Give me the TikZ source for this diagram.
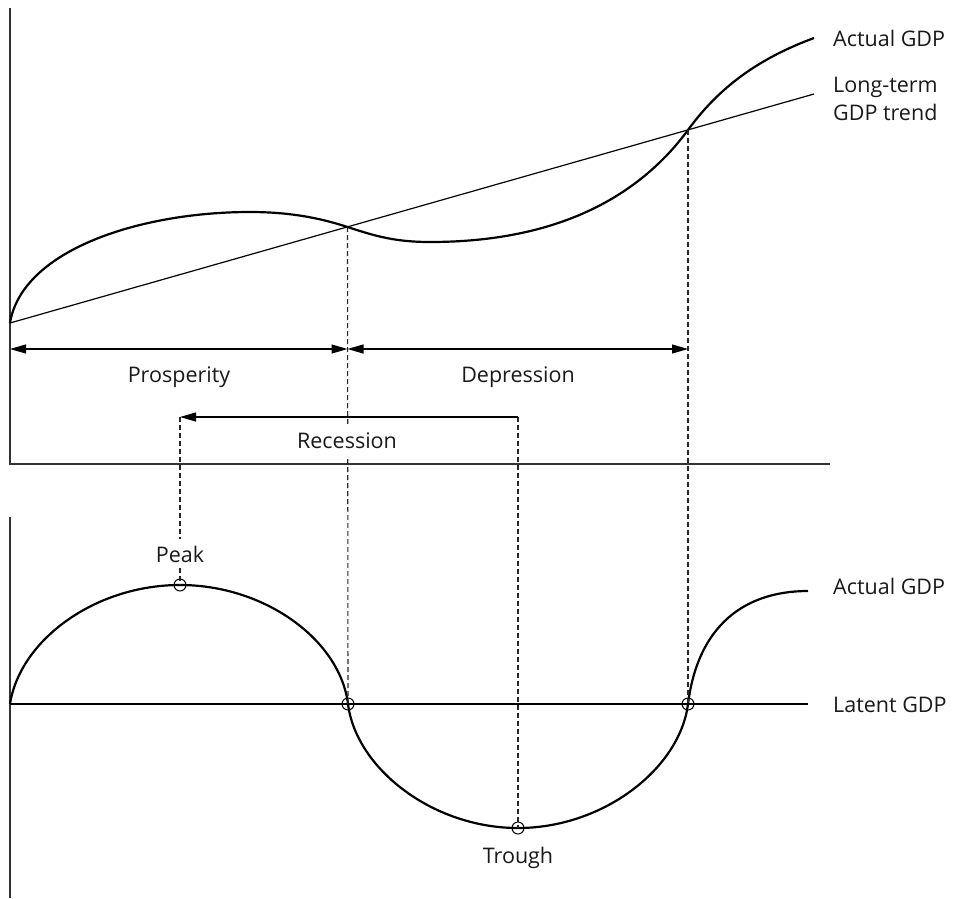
\documentclass[tikz,border=0pt]{standalone}
\usepackage{fontspec}
\setmainfont{Open Sans}
\usetikzlibrary{arrows.meta}
\begin{document}
\begin{tikzpicture}[x=1pt,y=-1pt,
  axis/.style={line width=1.4pt,draw=black!80},
  gdpcurve/.style={line width=2.2pt,line join=round},
  trendline/.style={line width=1.2pt},
  guide/.style={line width=1.1pt,draw=black!85,dash pattern=on 5pt off 3pt},
  span/.style={line width=1.1pt,{Triangle[length=16pt,width=9pt]}-{Triangle[length=16pt,width=9pt]}},
  lbl/.style={anchor=base,inner sep=0pt,font=\fontsize{21.5}{28}\selectfont,text=black!90},
  sidelbl/.style={lbl,anchor=base west},
  pt/.style={circle,draw,line width=1pt,minimum size=12pt,inner sep=0pt}
]
\useasboundingbox (0,0) rectangle (954,898);

% ---------- upper panel: GDP against its long-term trend ----------
\coordinate (uTop) at (10,8);
\coordinate (uO) at (10,464);
\coordinate (uX) at (830,464);
\draw[axis] (uTop) -- (uO) -- (uX);

\coordinate (s0) at (10,323);
\coordinate (x1) at (347.5,227);
\coordinate (x2) at (688,130);
\coordinate (trEnd) at (814,94);
\coordinate (gEnd) at (814,38);

\draw[trendline] (s0) -- (trEnd);
\draw[gdpcurve] (s0) .. controls (22,250) and (140,212) .. (250,212)
  .. controls (290,212) and (320,218) .. (x1)
  .. controls (375,236) and (395,242) .. (430,242)
  .. controls (560,242) and (640,195) .. (x2)
  .. controls (720,86) and (760,58) .. (gEnd);

\node[sidelbl] (lblActTop) at (833,46) {Actual GDP};
\node[sidelbl] (lblTrend1) at (833,92) {Long-term};
\node[sidelbl] (lblTrend2) at (833,120) {GDP trend};

% ---------- lower panel: deviation from latent GDP ----------
\coordinate (lTop) at (10,517);
\coordinate (lBot) at (10,898);
\draw[axis] (lTop) -- (lBot);

\coordinate (l0) at (10,704);
\coordinate (lEnd) at (808,704);
\draw[trendline] (l0) -- (lEnd);

\coordinate (pkPt) at (180,585);
\coordinate (z1) at (348,704);
\coordinate (trPt) at (518,828);
\coordinate (z2) at (688,704);
\coordinate (cEnd) at (808,591);
\draw[gdpcurve] (l0) .. controls (20,640) and (95,585) .. (pkPt)
  .. controls (265,585) and (340,640) .. (z1)
  .. controls (356,768) and (432,828) .. (trPt)
  .. controls (604,828) and (680,768) .. (z2)
  .. controls (698,625) and (745,591) .. (cEnd);

\node[pt] (mPeak) at (pkPt) {};
\node[pt] (mZ1) at (z1) {};
\node[pt] (mTrough) at (trPt) {};
\node[pt] (mZ2) at (z2) {};

\node[sidelbl] (lblActBot) at (833,594) {Actual GDP};
\node[sidelbl] (lblLatent) at (833,712) {Latent GDP};

% ---------- phase spans ----------
\coordinate (pA) at (10,349);
\coordinate (pM) at (347.5,349);
\coordinate (pB) at (688,349);
\coordinate (rA) at (180,417);
\coordinate (rB) at (518,417);

\draw[guide] (x1) -- (mZ1.center);
\draw[guide] (x2) -- (mZ2.center);
\draw[guide] (rB) -- (mTrough.center);

\node[lbl,inner sep=6pt] (lblPeak) at (180,562) {Peak};
\draw[guide] (rA) -- (lblPeak.north);
\draw[guide] (lblPeak.south) -- (mPeak.center);

\draw[span] (pA) -- (pM);
\draw[span] (pM) -- (pB);
\draw[span,{Triangle[length=16pt,width=9pt]}-] (rA) -- (rB);

\node[lbl] (lblPros) at (179,382) {Prosperity};
\node[lbl] (lblDep) at (518,382) {Depression};
\node[lbl,fill=white,inner xsep=2pt,inner ysep=8pt] (lblRec) at (347,448) {Recession};
\node[lbl] (lblTrough) at (518,863) {Trough};
\end{tikzpicture}
\end{document}
